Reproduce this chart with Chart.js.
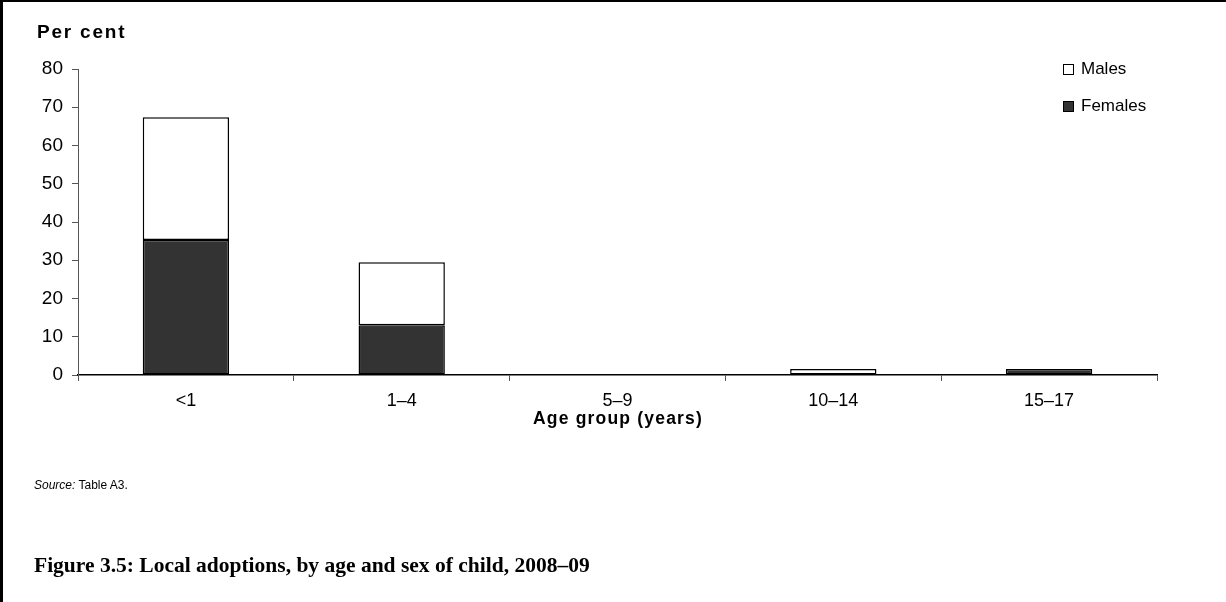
<!DOCTYPE html>
<html>
<head>
<meta charset="utf-8">
<script src="https://cdn.jsdelivr.net/npm/chart.js@4/dist/chart.umd.min.js"></script>
<style>
  html, body { margin: 0; padding: 0; background: #fff; }
  #wrap { position: relative; width: 1226px; height: 602px; overflow: hidden; }
  #frame { position: absolute; left: 0; top: 0; width: 1226px; height: 602px; box-sizing: border-box; border-top: 2px solid #000; border-left: 3px solid #000; pointer-events: none; }
  canvas { position: absolute; left: 0; top: 0; }
  .t { position: absolute; font-family: "Liberation Sans", Arial, sans-serif; color: #000; white-space: nowrap; }
  #ytitle { left: 37px; top: 21px; font-size: 19px; font-weight: bold; letter-spacing: 1.8px; line-height: 22px; }
  #xtitle { left: 0; width: 1236px; text-align: center; top: 407px; font-size: 17.5px; font-weight: bold; letter-spacing: 1.2px; line-height: 22px; }
  #source { left: 34px; top: 478px; font-size: 12px; }
  #caption { left: 34px; top: 553px; font-family: "Liberation Serif", "Times New Roman", serif; font-weight: bold; font-size: 21.5px; }
  .leg { position: absolute; left: 1063px; font-family: "Liberation Sans", Arial, sans-serif; font-size: 17px; line-height: 20px; }
  .leg span.box { position: absolute; left: 0; width: 9px; height: 9px; border: 1px solid #000; }
  .leg span.lab { position: absolute; left: 18px; white-space: nowrap; }
</style>
</head>
<body>
<div id="wrap">
  <canvas id="c" width="1226" height="602"></canvas>
  <div class="t" id="ytitle">Per cent</div>
  <div class="t" id="xtitle">Age group (years)</div>
  <div class="t" id="source"><i>Source:</i> Table A3.</div>
  <div class="t" id="caption">Figure 3.5: Local adoptions, by age and sex of child, 2008–09</div>
  <div id="legend"></div>
  <div id="frame"></div>
</div>
<script>
const categories = ["<1", "1–4", "5–9", "10–14", "15–17"];
const femalesValues = [35.3, 13.0, 0, 0, 1.6];
const malesValues = [32.1, 16.5, 0, 1.6, 0];
const yTicks = [0, 10, 20, 30, 40, 50, 60, 70, 80];
const seriesNames = ["Males", "Females"];

const legendColors = { "Males": "#ffffff", "Females": "#333333" };
const legendTops = { "Males": 59, "Females": 96 };
const legendEl = document.getElementById('legend');
seriesNames.forEach(n => {
  const d = document.createElement('div');
  d.className = 'leg';
  d.style.top = legendTops[n] + 'px';
  d.innerHTML = '<span class="box" style="top:5px;background:' + legendColors[n] + '"></span><span class="lab">' + n + '</span>';
  legendEl.appendChild(d);
});

new Chart(document.getElementById('c'), {
  type: 'bar',
  data: {
    labels: categories,
    datasets: [
      { label: "Females", data: femalesValues, backgroundColor: '#333333', borderColor: '#000', borderWidth: 1.5, borderSkipped: false, barPercentage: 0.4, categoryPercentage: 1 },
      { label: "Males", data: malesValues, backgroundColor: '#ffffff', borderColor: '#000', borderWidth: 1.5, borderSkipped: false, barPercentage: 0.4, categoryPercentage: 1 }
    ]
  },
  options: {
    responsive: false,
    animation: false,
    devicePixelRatio: 1,
    layout: { padding: { left: 0, right: 69, top: 69, bottom: 0 } },
    plugins: { legend: { display: false }, tooltip: { enabled: false } },
    scales: {
      x: {
        stacked: true,
        afterFit: s => { s.height = 227; },
        grid: { offset: true, drawOnChartArea: false, drawTicks: true, tickLength: 6, color: '#555', lineWidth: 1 },
        border: { display: true, color: '#000', width: 1.5 },
        ticks: { color: '#000', font: { family: 'Liberation Sans, Arial, sans-serif', size: 18 }, padding: 9, maxRotation: 0 }
      },
      y: {
        stacked: true,
        min: 0, max: 80,
        afterFit: s => { s.width = 78; },
        afterBuildTicks: s => { s.ticks = yTicks.map(v => ({ value: v })); },
        grid: { drawOnChartArea: false, drawTicks: true, tickLength: 6, color: '#555', lineWidth: 1 },
        border: { display: true, color: '#555', width: 1 },
        ticks: { color: '#000', font: { family: 'Liberation Sans, Arial, sans-serif', size: 19 }, padding: 9 }
      }
    }
  }
});
</script>
</body>
</html>
